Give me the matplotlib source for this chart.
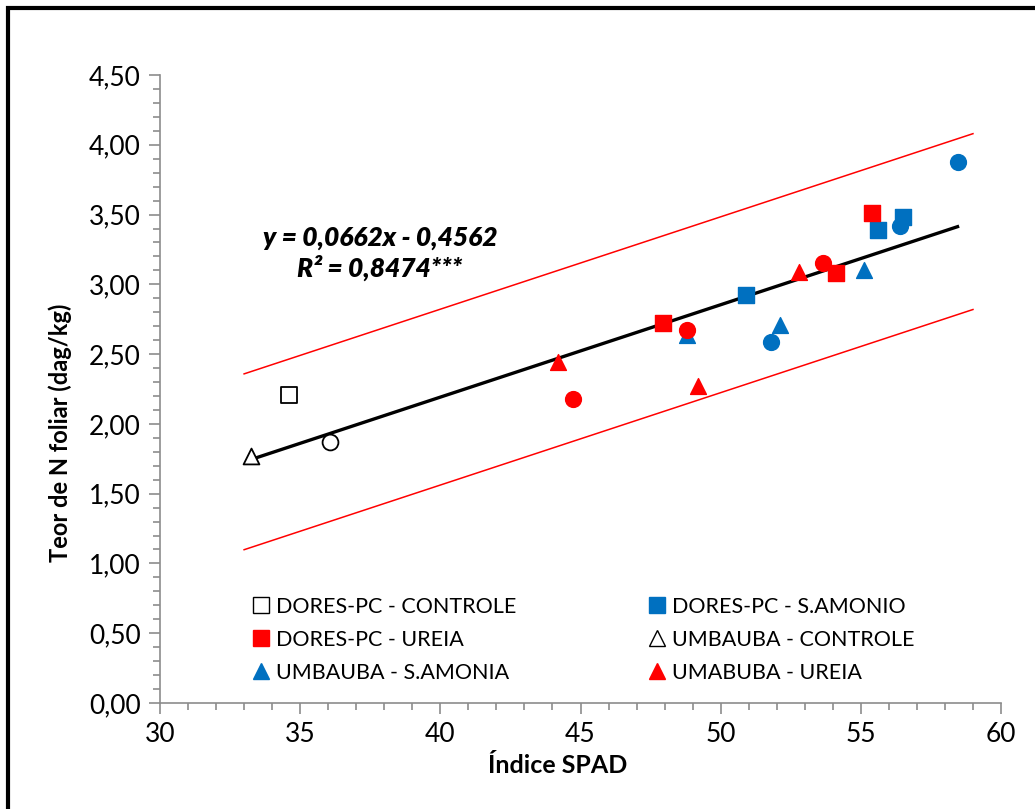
import matplotlib.pyplot as plt
from matplotlib.patches import Rectangle
from matplotlib.ticker import MultipleLocator, FuncFormatter

plt.rcParams["font.family"] = ["Lato", "DejaVu Sans"]

BLUE = "#0070C0"
RED = "#FF0000"

# points (Indice SPAD, N foliar dag/kg)
dores_controle_x = [34.6]
dores_controle_y = [2.21]
dores_samonio_x = [50.9, 55.6, 56.5]
dores_samonio_y = [2.92, 3.39, 3.48]
dores_ureia_x = [47.95, 54.1, 55.4]
dores_ureia_y = [2.72, 3.08, 3.51]
umb_controle_x = [33.25]
umb_controle_y = [1.77]
umb_samonia_x = [48.8, 52.1, 55.1]
umb_samonia_y = [2.64, 2.71, 3.10]
umb_ureia_x = [44.2, 49.2, 52.8]
umb_ureia_y = [2.44, 2.27, 3.09]

# circles (not in legend)
open_circle_x = [36.05]
open_circle_y = [1.87]
red_circle_x = [44.75, 48.8, 53.65]
red_circle_y = [2.18, 2.67, 3.15]
blue_circle_x = [51.8, 56.4, 58.45]
blue_circle_y = [2.59, 3.42, 3.88]

# regression and band
slope, intercept = 0.0662, -0.4562
fit_x = [33.25, 58.45]
band_x = [33.0, 59.0]
band_offset = 0.63

fig = plt.figure(figsize=(10.35, 8.09), dpi=100)
ax = fig.add_axes([160 / 1035, 106 / 809, 841 / 1035, 628 / 809])

ms = 130
ax.scatter(umb_controle_x, umb_controle_y, marker="^", s=ms, facecolor="white", edgecolor="black", linewidth=1.3, zorder=3)
ax.scatter(umb_samonia_x, umb_samonia_y, marker="^", s=ms, color=BLUE, zorder=3)
ax.scatter(umb_ureia_x, umb_ureia_y, marker="^", s=ms, color=RED, zorder=3)
ax.scatter(dores_controle_x, dores_controle_y, marker="s", s=ms, facecolor="white", edgecolor="black", linewidth=1.3, zorder=3)
ax.scatter(dores_samonio_x, dores_samonio_y, marker="s", s=ms, color=BLUE, zorder=3)
ax.scatter(dores_ureia_x, dores_ureia_y, marker="s", s=ms, color=RED, zorder=3)
ax.scatter(open_circle_x, open_circle_y, marker="o", s=ms, facecolor="white", edgecolor="black", linewidth=1.3, zorder=3)
ax.scatter(red_circle_x, red_circle_y, marker="o", s=ms, color=RED, zorder=3)
ax.scatter(blue_circle_x, blue_circle_y, marker="o", s=ms, color=BLUE, zorder=3)

ax.plot(fit_x, [slope * x + intercept for x in fit_x], color="black", linewidth=2.4, zorder=2)
ax.plot(band_x, [slope * x + intercept + band_offset for x in band_x], color=RED, linewidth=1.1, zorder=2)
ax.plot(band_x, [slope * x + intercept - band_offset for x in band_x], color=RED, linewidth=1.1, zorder=2)

ax.text(37.85, 3.22, "y = 0,0662x - 0,4562\nR² = 0,8474***", ha="center", va="center",
        fontsize=19, fontweight="heavy", fontstyle="italic", linespacing=1.2)

# legend handles (column-major order for ncol=2)
h = dict(linestyle="none", markersize=11)
handles = [
    plt.Line2D([], [], marker="s", markerfacecolor="white", markeredgecolor="black", **h),
    plt.Line2D([], [], marker="s", color=RED, **h),
    plt.Line2D([], [], marker="^", color=BLUE, **h),
    plt.Line2D([], [], marker="s", color=BLUE, **h),
    plt.Line2D([], [], marker="^", markerfacecolor="white", markeredgecolor="black", **h),
    plt.Line2D([], [], marker="^", color=RED, **h),
]
labels = ["DORES-PC - CONTROLE", "DORES-PC - UREIA", "UMBAUBA - S.AMONIA",
          "DORES-PC - S.AMONIO", "UMBAUBA - CONTROLE", "UMABUBA - UREIA"]
ax.legend(handles, labels, ncol=2, loc="upper left", bbox_to_anchor=(0.1, 0.183),
          frameon=False, fontsize=15.5, handlelength=0.8, handletextpad=0.3,
          columnspacing=6.1, labelspacing=0.6, borderaxespad=0)

ax.set_xlim(30, 60)
ax.set_ylim(0, 4.5)
ax.xaxis.set_major_locator(MultipleLocator(5))
ax.xaxis.set_minor_locator(MultipleLocator(1))
ax.yaxis.set_major_locator(MultipleLocator(0.5))
ax.yaxis.set_minor_locator(MultipleLocator(0.1))
ax.yaxis.set_major_formatter(FuncFormatter(lambda v, p: f"{v:.2f}".replace(".", ",")))

for side in ["top", "right"]:
    ax.spines[side].set_visible(False)
for side in ["left", "bottom"]:
    ax.spines[side].set_color("#8C8C8C")
    ax.spines[side].set_linewidth(1.2)
ax.tick_params(which="both", direction="out", color="#8C8C8C", width=1.2, labelsize=19)
ax.tick_params(which="major", length=8, pad=6)
ax.tick_params(which="minor", length=5)

ax.set_xlabel("Índice SPAD", fontsize=18, fontweight="bold", labelpad=5, x=0.473)
ax.set_ylabel("Teor de N foliar (dag/kg)", fontsize=17, fontweight="bold", labelpad=12, y=0.43)

# outer frame of the picture (left and top edges visible)
fig.patches.append(Rectangle((8 / 1035, -0.1), 1.2, 1.1 - 8 / 809, transform=fig.transFigure,
                             fill=False, edgecolor="black", linewidth=3))

fig.savefig("out.png", dpi=100)
plt.close(fig)
